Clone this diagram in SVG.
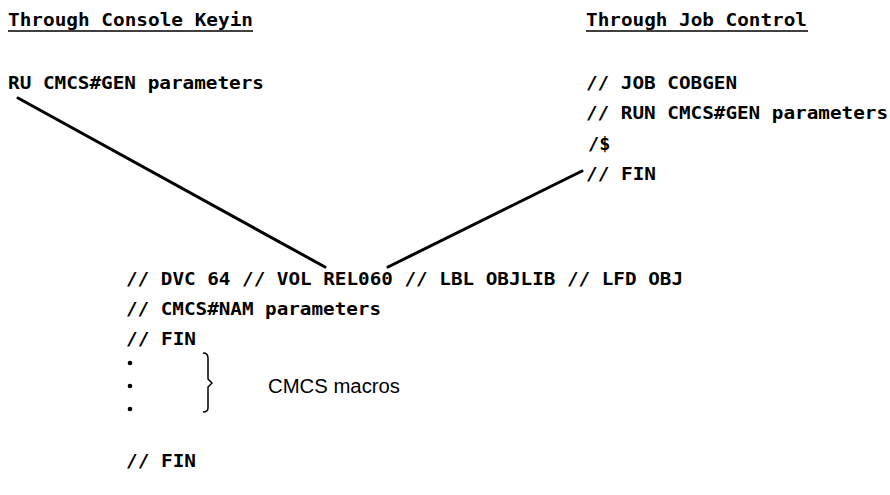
<svg xmlns="http://www.w3.org/2000/svg" width="890" height="495" viewBox="0 0 890 495">
<style>
.m{font-family:"DejaVu Sans Mono","Liberation Mono",monospace;font-weight:bold;font-size:18.5px;fill:#000}
.s{font-family:"Liberation Sans",Arial,sans-serif;font-size:20px;fill:#000}
.ln{stroke:#000;stroke-width:3;fill:none;stroke-linecap:round}
.ul{stroke:#000;stroke-width:1.5}
</style>
<rect width="890" height="495" fill="#fff"/>
<g id="console">
<text class="m" x="8" y="26" textLength="245" lengthAdjust="spacingAndGlyphs">Through Console Keyin</text>
<line class="ul" x1="8" y1="31" x2="253" y2="31"/>
<text class="m" x="8" y="89" textLength="256" lengthAdjust="spacingAndGlyphs">RU CMCS#GEN parameters</text>
</g>
<g id="jobcontrol">
<text class="m" x="586" y="26" textLength="221" lengthAdjust="spacingAndGlyphs">Through Job Control</text>
<line class="ul" x1="586" y1="31" x2="808" y2="31"/>
<text class="m" x="586" y="89" textLength="151" lengthAdjust="spacingAndGlyphs">// JOB COBGEN</text>
<text class="m" x="586" y="119" textLength="302" lengthAdjust="spacingAndGlyphs">// RUN CMCS#GEN parameters</text>
<text class="m" x="588" y="150">/$</text>
<text class="m" x="586" y="180" textLength="70" lengthAdjust="spacingAndGlyphs">// FIN</text>
</g>
<g id="library">
<text class="m" x="126" y="285" textLength="557" lengthAdjust="spacingAndGlyphs">// DVC 64 // VOL REL060 // LBL OBJLIB // LFD OBJ</text>
<text class="m" x="126" y="315" textLength="255" lengthAdjust="spacingAndGlyphs">// CMCS#NAM parameters</text>
<text class="m" x="126" y="345" textLength="70" lengthAdjust="spacingAndGlyphs">// FIN</text>
<circle cx="130" cy="363" r="2.3"/>
<circle cx="130" cy="386" r="2.3"/>
<circle cx="130" cy="409" r="2.3"/>
<path d="M203,353 Q208,353 208,358 L208,379 L212,383 L208,387 L208,408 Q208,412 203,412" fill="none" stroke="#000" stroke-width="1.5"/>
<text class="s" x="268" y="393" textLength="132" lengthAdjust="spacingAndGlyphs">CMCS macros</text>
<text class="m" x="126" y="467" textLength="70" lengthAdjust="spacingAndGlyphs">// FIN</text>
</g>
<g id="connectors">
<line class="ln" x1="18" y1="98" x2="325" y2="267"/>
<line class="ln" x1="388" y1="267" x2="582" y2="171"/>
</g>
</svg>
